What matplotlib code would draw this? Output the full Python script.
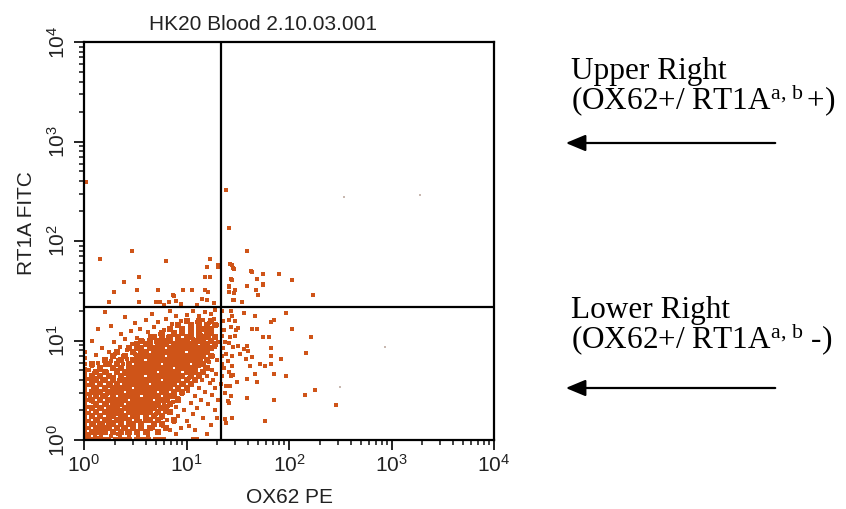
import numpy as np
import matplotlib
matplotlib.use("Agg")
import matplotlib.pyplot as plt
from matplotlib.patches import FancyArrowPatch
from matplotlib.ticker import NullFormatter

plt.rcParams['font.family'] = ['Liberation Sans', 'DejaVu Sans']
plt.rcParams['mathtext.fontset'] = 'custom'
plt.rcParams['mathtext.rm'] = 'Liberation Serif'
plt.rcParams['mathtext.it'] = 'Liberation Serif:italic'
plt.rcParams['mathtext.bf'] = 'Liberation Serif:bold'

title = "HK20 Blood 2.10.03.001"
x_label = "OX62 PE"
y_label = "RT1A FITC"
gate_ox62 = 21.5
gate_rt1a = 21.5
decades = [0, 1, 2, 3, 4]
tick_labels = [r'$\mathdefault{10^{%d}}$' % d for d in decades]
upper_note = "Upper Right\n" + r"(OX62+/ RT1A$^{\mathrm{a,\,b}}\,$+)"
lower_note = "Lower Right\n" + r"(OX62+/ RT1A$^{\mathrm{a,\,b}}$ -)"

# Main lower-left population, read row by row:
# (log10 RT1A FITC, [log10 OX62 PE ...])
core_rows = [
    (0.08, [0.08, 0.16, 0.20, 0.28, 0.36, 0.44, 0.52, 0.60, 0.72]),
    (0.12, [0.12, 0.20, 0.24, 0.32, 0.40, 0.48, 0.56, 0.64, 0.80]),
    (0.16, [0.08, 0.16, 0.24, 0.28, 0.36, 0.44, 0.48, 0.56, 0.68, 0.76]),
    (0.20, [0.12, 0.20, 0.24, 0.32, 0.36, 0.44, 0.52, 0.60, 0.64, 0.72, 0.88]),
    (0.24, [0.08, 0.16, 0.24, 0.28, 0.36, 0.40, 0.48, 0.52, 0.60, 0.68, 0.76]),
    (0.28, [0.12, 0.20, 0.28, 0.32, 0.36, 0.44, 0.48, 0.56, 0.60, 0.64, 0.72, 0.84]),
    (0.32, [0.08, 0.16, 0.24, 0.28, 0.32, 0.40, 0.44, 0.48, 0.52, 0.60, 0.64, 0.68, 0.76, 0.80]),
    (0.36, [0.12, 0.20, 0.28, 0.32, 0.36, 0.44, 0.48, 0.52, 0.56, 0.60, 0.64, 0.68, 0.72, 0.84]),
    (0.40, [0.08, 0.16, 0.24, 0.28, 0.32, 0.36, 0.40, 0.48, 0.52, 0.56, 0.60, 0.64, 0.72, 0.76,
            0.80, 0.92]),
    (0.44, [0.12, 0.20, 0.28, 0.36, 0.40, 0.44, 0.48, 0.52, 0.60, 0.64, 0.68, 0.72, 0.80, 0.84,
            0.88]),
    (0.48, [0.08, 0.16, 0.24, 0.28, 0.32, 0.36, 0.44, 0.48, 0.52, 0.56, 0.60, 0.64, 0.68, 0.76,
            0.80, 0.88, 0.96]),
    (0.52, [0.12, 0.20, 0.28, 0.32, 0.36, 0.40, 0.44, 0.52, 0.56, 0.60, 0.64, 0.68, 0.72, 0.76,
            0.80, 0.84, 0.92, 1.00]),
    (0.56, [0.08, 0.16, 0.24, 0.32, 0.40, 0.44, 0.48, 0.52, 0.56, 0.60, 0.68, 0.72, 0.76, 0.80,
            0.84, 0.88, 0.96, 1.04]),
    (0.60, [0.12, 0.20, 0.28, 0.36, 0.40, 0.44, 0.48, 0.52, 0.56, 0.60, 0.64, 0.68, 0.72, 0.80,
            0.84, 0.88, 0.92, 1.00, 1.08]),
    (0.64, [0.08, 0.16, 0.24, 0.36, 0.44, 0.48, 0.52, 0.56, 0.64, 0.68, 0.72, 0.76, 0.80, 0.84,
            0.88, 0.92, 0.96, 1.04, 1.12]),
    (0.68, [0.12, 0.20, 0.32, 0.40, 0.44, 0.48, 0.52, 0.56, 0.60, 0.64, 0.68, 0.76, 0.80, 0.84,
            0.88, 0.92, 1.00, 1.04, 1.08, 1.16]),
    (0.72, [0.16, 0.28, 0.36, 0.44, 0.48, 0.52, 0.56, 0.60, 0.64, 0.68, 0.72, 0.76, 0.80, 0.84,
            0.92, 0.96, 1.00, 1.04, 1.08, 1.20]),
    (0.76, [0.08, 0.24, 0.32, 0.44, 0.52, 0.56, 0.60, 0.64, 0.68, 0.72, 0.80, 0.84, 0.88, 0.92,
            0.96, 1.00, 1.08, 1.12, 1.16]),
    (0.80, [0.20, 0.36, 0.48, 0.52, 0.56, 0.64, 0.68, 0.72, 0.76, 0.80, 0.84, 0.88, 0.92, 0.96,
            1.00, 1.04, 1.08, 1.12, 1.20]),
    (0.84, [0.28, 0.40, 0.52, 0.56, 0.60, 0.64, 0.68, 0.72, 0.76, 0.84, 0.88, 0.92, 0.96, 1.00,
            1.04, 1.08, 1.12, 1.16, 1.24]),
    (0.88, [0.32, 0.48, 0.56, 0.60, 0.68, 0.72, 0.76, 0.80, 0.84, 0.88, 0.92, 0.96, 1.04, 1.08,
            1.12, 1.16, 1.20]),
    (0.92, [0.44, 0.52, 0.56, 0.64, 0.68, 0.72, 0.76, 0.84, 0.88, 0.92, 0.96, 1.00, 1.04, 1.08,
            1.12, 1.16, 1.24]),
    (0.96, [0.52, 0.60, 0.64, 0.72, 0.76, 0.80, 0.88, 0.92, 0.96, 1.00, 1.04, 1.08, 1.16, 1.20,
            1.28]),
    (1.00, [0.56, 0.64, 0.72, 0.80, 0.84, 0.92, 0.96, 1.00, 1.08, 1.12, 1.16, 1.24]),
    (1.04, [0.68, 0.76, 0.84, 0.92, 1.00, 1.04, 1.12, 1.16, 1.20, 1.28]),
    (1.08, [0.76, 0.88, 0.96, 1.04, 1.12, 1.20, 1.24]),
    (1.12, [0.84, 0.96, 1.04, 1.12, 1.16, 1.24]),
    (1.16, [0.92, 1.04, 1.12, 1.20, 1.28]),
    (1.20, [1.00, 1.12, 1.24]),
]

# Channel-zero pile-ups: events on the left edge (OX62 = 10^0) and the bottom edge (RT1A = 10^0)
edge_left_rt1a = [0.05, 0.08, 0.11, 0.14, 0.17, 0.20, 0.23, 0.26, 0.29, 0.32, 0.35, 0.38, 0.41,
                  0.44, 0.47, 0.50, 0.53, 0.56, 0.59, 0.62, 0.65, 0.68, 0.71, 0.76, 0.82, 0.88]
edge_left2_rt1a = [0.06, 0.12, 0.19, 0.27, 0.33, 0.40, 0.46, 0.55, 0.61, 0.70]
edge_bottom_ox62 = [0.03, 0.06, 0.09, 0.12, 0.15, 0.18, 0.21, 0.24, 0.30, 0.33, 0.36, 0.39, 0.42,
                    0.45, 0.51, 0.54, 0.57, 0.60, 0.63, 0.69, 0.72, 0.75, 0.78, 1.06, 1.10]
edge_bottom2_ox62 = [0.05, 0.11, 0.17, 0.26, 0.35, 0.44, 0.53, 0.62]

# Scattered lower-left events around the core (log10 OX62 PE, log10 RT1A FITC)
ll_scatter = [
    (0.08, 0.09), (0.12, 0.07), (0.16, 0.12), (0.21, 0.08), (0.25, 0.13), (0.29, 0.09),
    (0.10, 0.16), (0.14, 0.20), (0.19, 0.17), (0.23, 0.22), (0.27, 0.18), (0.07, 0.23),
    (0.11, 0.27), (0.16, 0.25), (0.20, 0.29), (0.25, 0.27), (0.29, 0.31), (0.08, 0.32),
    (0.13, 0.34), (0.18, 0.33), (0.22, 0.36), (0.27, 0.35), (0.09, 0.38), (0.15, 0.41),
    (0.06, 0.44), (0.12, 0.47), (0.18, 0.45), (0.22, 0.41), (0.09, 0.52), (0.15, 0.55),
    (0.20, 0.50), (0.24, 0.54), (0.07, 0.59), (0.12, 0.62), (0.18, 0.60), (0.23, 0.64),
    (0.28, 0.59), (0.10, 0.67), (0.16, 0.70), (0.22, 0.68), (0.27, 0.72), (0.31, 0.67),
    (0.08, 0.74), (0.14, 0.77), (0.20, 0.75), (0.26, 0.79), (0.33, 0.80), (0.38, 0.84),
    (0.30, 0.86), (0.24, 0.88), (0.12, 0.85), (0.18, 0.92), (0.35, 0.93), (0.42, 0.90),
    (0.47, 0.96), (0.29, 0.98), (0.08, 0.99), (0.40, 1.02), (0.52, 1.03), (0.58, 0.99),
    (0.64, 1.05), (0.70, 1.01), (0.36, 1.07), (0.46, 1.10), (0.55, 1.12), (0.62, 1.09),
    (0.68, 1.14), (0.74, 1.07), (0.78, 1.11), (0.82, 1.04), (0.26, 1.15), (0.14, 1.12),
    (0.50, 1.18), (0.60, 1.21), (0.72, 1.19), (0.80, 1.22), (0.86, 1.17), (0.90, 1.25),
    (0.66, 1.27), (0.40, 1.24), (0.20, 1.29), (0.84, 1.30), (0.95, 1.20), (1.00, 1.26),
    (1.06, 1.30), (1.12, 1.25), (1.18, 1.29), (1.24, 1.27), (1.28, 1.31), (1.03, 1.17),
    (1.10, 1.19), (1.16, 1.21), (1.22, 1.18), (1.27, 1.22), (1.30, 1.16), (1.20, 1.12),
    (1.25, 1.08), (1.29, 1.04), (1.22, 1.04), (1.19, 0.96), (1.24, 0.99), (1.28, 0.93),
    (1.21, 0.88), (1.26, 0.84), (1.30, 0.80), (1.22, 0.78), (1.18, 0.72), (1.25, 0.70),
    (1.29, 0.66), (1.20, 0.64), (1.15, 0.60), (1.23, 0.57), (1.28, 0.52), (1.12, 0.52),
    (1.18, 0.48), (1.25, 0.45), (1.08, 0.44), (1.14, 0.40), (1.21, 0.36), (1.04, 0.37),
    (1.10, 0.32), (1.28, 0.30), (0.98, 0.30), (1.06, 0.26), (1.16, 0.22), (0.92, 0.24),
    (1.00, 0.19), (1.24, 0.15), (0.88, 0.18), (0.95, 0.12), (1.08, 0.10), (0.84, 0.10),
    (0.90, 0.06), (1.20, 0.06), (0.33, 0.06), (0.38, 0.11), (0.42, 0.07), (0.47, 0.13),
    (0.52, 0.09), (0.57, 0.14), (0.62, 0.08), (0.67, 0.12), (0.72, 0.07), (0.77, 0.14),
    (0.81, 0.20), (0.35, 0.17), (0.40, 0.21), (0.45, 0.18), (0.50, 0.23), (0.55, 0.19),
    (0.60, 0.24), (0.65, 0.20), (0.70, 0.26), (0.75, 0.22), (0.79, 0.28), (0.85, 0.27),
    (0.90, 0.33), (0.33, 0.26), (0.37, 0.30), (0.43, 0.27), (0.48, 0.31), (0.53, 0.28),
    (0.58, 0.33), (0.63, 0.29), (0.68, 0.32), (0.74, 0.31), (0.82, 0.34), (0.87, 0.38),
    (0.92, 0.42), (0.96, 0.46), (1.01, 0.49), (1.05, 0.55), (1.09, 0.59), (1.13, 0.66),
    (1.16, 0.69), (0.24, 0.40), (0.22, 0.46), (0.26, 0.56), (0.29, 0.63), (0.32, 0.70),
    (0.38, 0.76), (0.42, 0.81), (0.50, 0.86), (0.55, 0.92), (0.62, 0.95), (0.70, 0.98),
    (0.76, 1.02), (0.88, 1.06), (0.96, 1.09), (1.06, 1.02), (1.14, 1.06), (1.16, 0.98),
    (1.20, 0.92), (1.17, 0.85), (1.14, 0.80), (1.12, 0.74), (1.08, 0.68), (1.02, 0.62),
    (0.98, 0.55), (0.93, 0.50), (0.88, 0.44), (0.82, 0.40), (0.78, 0.36), (0.72, 0.34),
    (0.62, 0.33), (0.30, 0.50), (0.34, 0.60), (0.39, 0.66), (0.46, 0.31), (0.54, 0.32),
    (1.31, 0.40), (1.30, 0.22), (1.26, 0.60), (1.31, 0.98), (1.02, 0.14), (0.14, 0.02),
]

# Upper-left quadrant events
ul_events = [
    (0.02, 2.59), (0.16, 1.82), (0.47, 1.90), (0.80, 1.80), (0.39, 1.59), (0.54, 1.64),
    (0.29, 1.49), (0.52, 1.51), (0.72, 1.51), (0.24, 1.39), (0.54, 1.39), (0.70, 1.39),
    (0.74, 1.39), (0.78, 1.36), (0.83, 1.39), (0.88, 1.45), (0.90, 1.40), (0.95, 1.37),
    (0.97, 1.51), (1.05, 1.51), (1.18, 1.64), (1.23, 1.64), (1.20, 1.74), (1.23, 1.82),
    (1.31, 1.74), (1.18, 1.51), (1.21, 1.49), (1.20, 1.41), (0.87, 1.46), (1.27, 1.38),
    (1.10, 1.36), (1.15, 1.42), (1.31, 1.76),
]

# Upper-right quadrant events
ur_events = [
    (1.39, 2.51), (1.41, 2.13), (1.59, 1.90), (1.42, 1.77), (1.45, 1.73), (1.44, 1.61),
    (1.41, 1.55), (1.47, 1.51), (1.41, 1.49), (1.46, 1.48), (1.59, 1.55), (1.63, 1.70),
    (1.69, 1.62), (1.75, 1.67), (1.68, 1.51), (1.70, 1.46), (1.75, 1.56), (1.90, 1.67),
    (2.03, 1.61), (2.23, 1.46), (1.45, 1.41), (1.54, 1.39), (1.44, 1.76), (1.46, 1.72),
    (1.64, 1.69), (1.75, 1.57), (1.43, 1.62), (1.41, 1.54), (1.46, 1.41),
]

# Lower-right quadrant events
lr_events = [
    (1.35, 1.30), (1.43, 1.30), (1.44, 1.25), (1.41, 1.21), (1.47, 1.20), (1.43, 1.14),
    (1.48, 1.11), (1.50, 1.13), (1.37, 1.11), (1.35, 1.05), (1.42, 1.04), (1.47, 1.05),
    (1.41, 0.97), (1.45, 0.93), (1.50, 0.94), (1.59, 0.94), (1.56, 0.91), (1.60, 0.89),
    (1.52, 0.86), (1.58, 0.81), (1.64, 0.83), (1.44, 0.84), (1.39, 0.86), (1.35, 0.84),
    (1.40, 0.79), (1.35, 0.76), (1.44, 0.74), (1.41, 0.68), (1.45, 0.65), (1.43, 0.64),
    (1.35, 0.64), (1.34, 0.56), (1.39, 0.54), (1.42, 0.54), (1.43, 0.44), (1.40, 0.39),
    (1.41, 0.37), (1.39, 0.17), (1.44, 0.22), (1.77, 0.19), (1.59, 0.42), (1.85, 0.40),
    (1.69, 0.58), (1.67, 0.66), (1.72, 0.76), (1.77, 0.74), (1.82, 0.76), (1.82, 0.84),
    (1.82, 0.92), (1.92, 0.81), (1.97, 0.64), (1.85, 0.66), (1.62, 0.74), (1.59, 0.61),
    (1.49, 0.58), (1.67, 1.25), (1.56, 1.28), (1.64, 1.12), (1.69, 1.12), (1.75, 1.04),
    (1.80, 1.04), (1.82, 1.19), (1.85, 1.21), (1.97, 1.28), (2.03, 1.12), (2.21, 1.04),
    (2.17, 0.87), (2.16, 0.45), (2.25, 0.50), (2.46, 0.35), (1.38, 0.21), (1.36, 1.20),
    (1.38, 0.98), (1.36, 0.92), (1.37, 0.72), (1.38, 0.47),
]

# Faint (pale) events far from the populations
faint_events = [(2.54, 2.44), (3.28, 2.46), (2.50, 0.53), (2.94, 0.93)]

# ---- assemble ----
core_x = np.array([x for y, xs in core_rows for x in xs])
core_y = np.array([y for y, xs in core_rows for x in xs])
sparse = (ll_scatter + ul_events + ur_events + lr_events
          + [(0.01, v) for v in edge_left_rt1a] + [(0.045, v) for v in edge_left2_rt1a]
          + [(v, 0.015) for v in edge_bottom_ox62] + [(v, 0.045) for v in edge_bottom2_ox62])
sp = np.array(sparse)
fa = np.array(faint_events)

W, H = 846, 509
fig = plt.figure(figsize=(W / 100, H / 100), dpi=100)
ax = fig.add_axes([84 / W, 1 - 440 / H, 410 / W, 398 / H])

dot_color = '#cf5418'
ax.plot(10 ** core_x, 10 ** core_y, linestyle='none', marker='s',
        markersize=3.7, markeredgewidth=0, color=dot_color, zorder=2)
ax.plot(10 ** sp[:, 0], 10 ** sp[:, 1], linestyle='none', marker='s',
        markersize=2.3, markeredgewidth=0, color=dot_color, zorder=2)
ax.plot(10 ** fa[:, 0], 10 ** fa[:, 1], linestyle='none', marker='s',
        markersize=2.0, markeredgewidth=0, color='#c8b8b0', zorder=2)

ax.axvline(gate_ox62, color='black', lw=1.6, zorder=3)
ax.axhline(gate_rt1a, color='black', lw=1.6, zorder=3)

ax.set_xscale('log')
ax.set_yscale('log')
ax.set_xlim(1, 1e4)
ax.set_ylim(1, 1e4)

majors = [10 ** d for d in decades]
minors = [k * 10 ** d for d in decades[:-1] for k in range(2, 10)]
ax.set_xticks(majors)
ax.set_xticklabels(tick_labels)
ax.set_yticks(majors)
ax.set_yticklabels(tick_labels, rotation=90, va='center')
ax.set_xticks(minors, minor=True)
ax.set_yticks(minors, minor=True)
ax.xaxis.set_minor_formatter(NullFormatter())
ax.yaxis.set_minor_formatter(NullFormatter())

ax.tick_params(which='major', direction='out', length=7, width=1.4, labelsize=15, pad=3,
               colors='#222222')
ax.tick_params(which='minor', direction='out', length=3.5, width=1.2, colors='#222222')
ax.tick_params(axis='y', which='major', pad=4)
for s in ax.spines.values():
    s.set_linewidth(1.6)

fig.text(263 / W, 1 - 30 / H, title, ha='center', va='baseline', fontsize=15, color='#222222')
fig.text(289 / W, 1 - 503 / H, x_label, ha='center', va='baseline', fontsize=15, color='#222222')
fig.text(26 / W, 1 - 223 / H, y_label, ha='center', va='center', rotation=90, fontsize=15,
         color='#222222')

serif = dict(family='Liberation Serif', fontsize=22.5, color='black', va='top', ha='left',
             linespacing=0.87)
fig.text(571 / W, 1 - 57 / H, upper_note, **serif)
fig.text(571 / W, 1 - 296 / H, lower_note, **serif)

for ypix in (143, 388):
    fig.add_artist(FancyArrowPatch(
        (778 / W, 1 - ypix / H), (563 / W, 1 - ypix / H), transform=fig.transFigure,
        arrowstyle='-|>,head_length=12,head_width=5', mutation_scale=1, lw=1.6, color='black'))

fig.savefig('out.png', dpi=100, facecolor='white')
